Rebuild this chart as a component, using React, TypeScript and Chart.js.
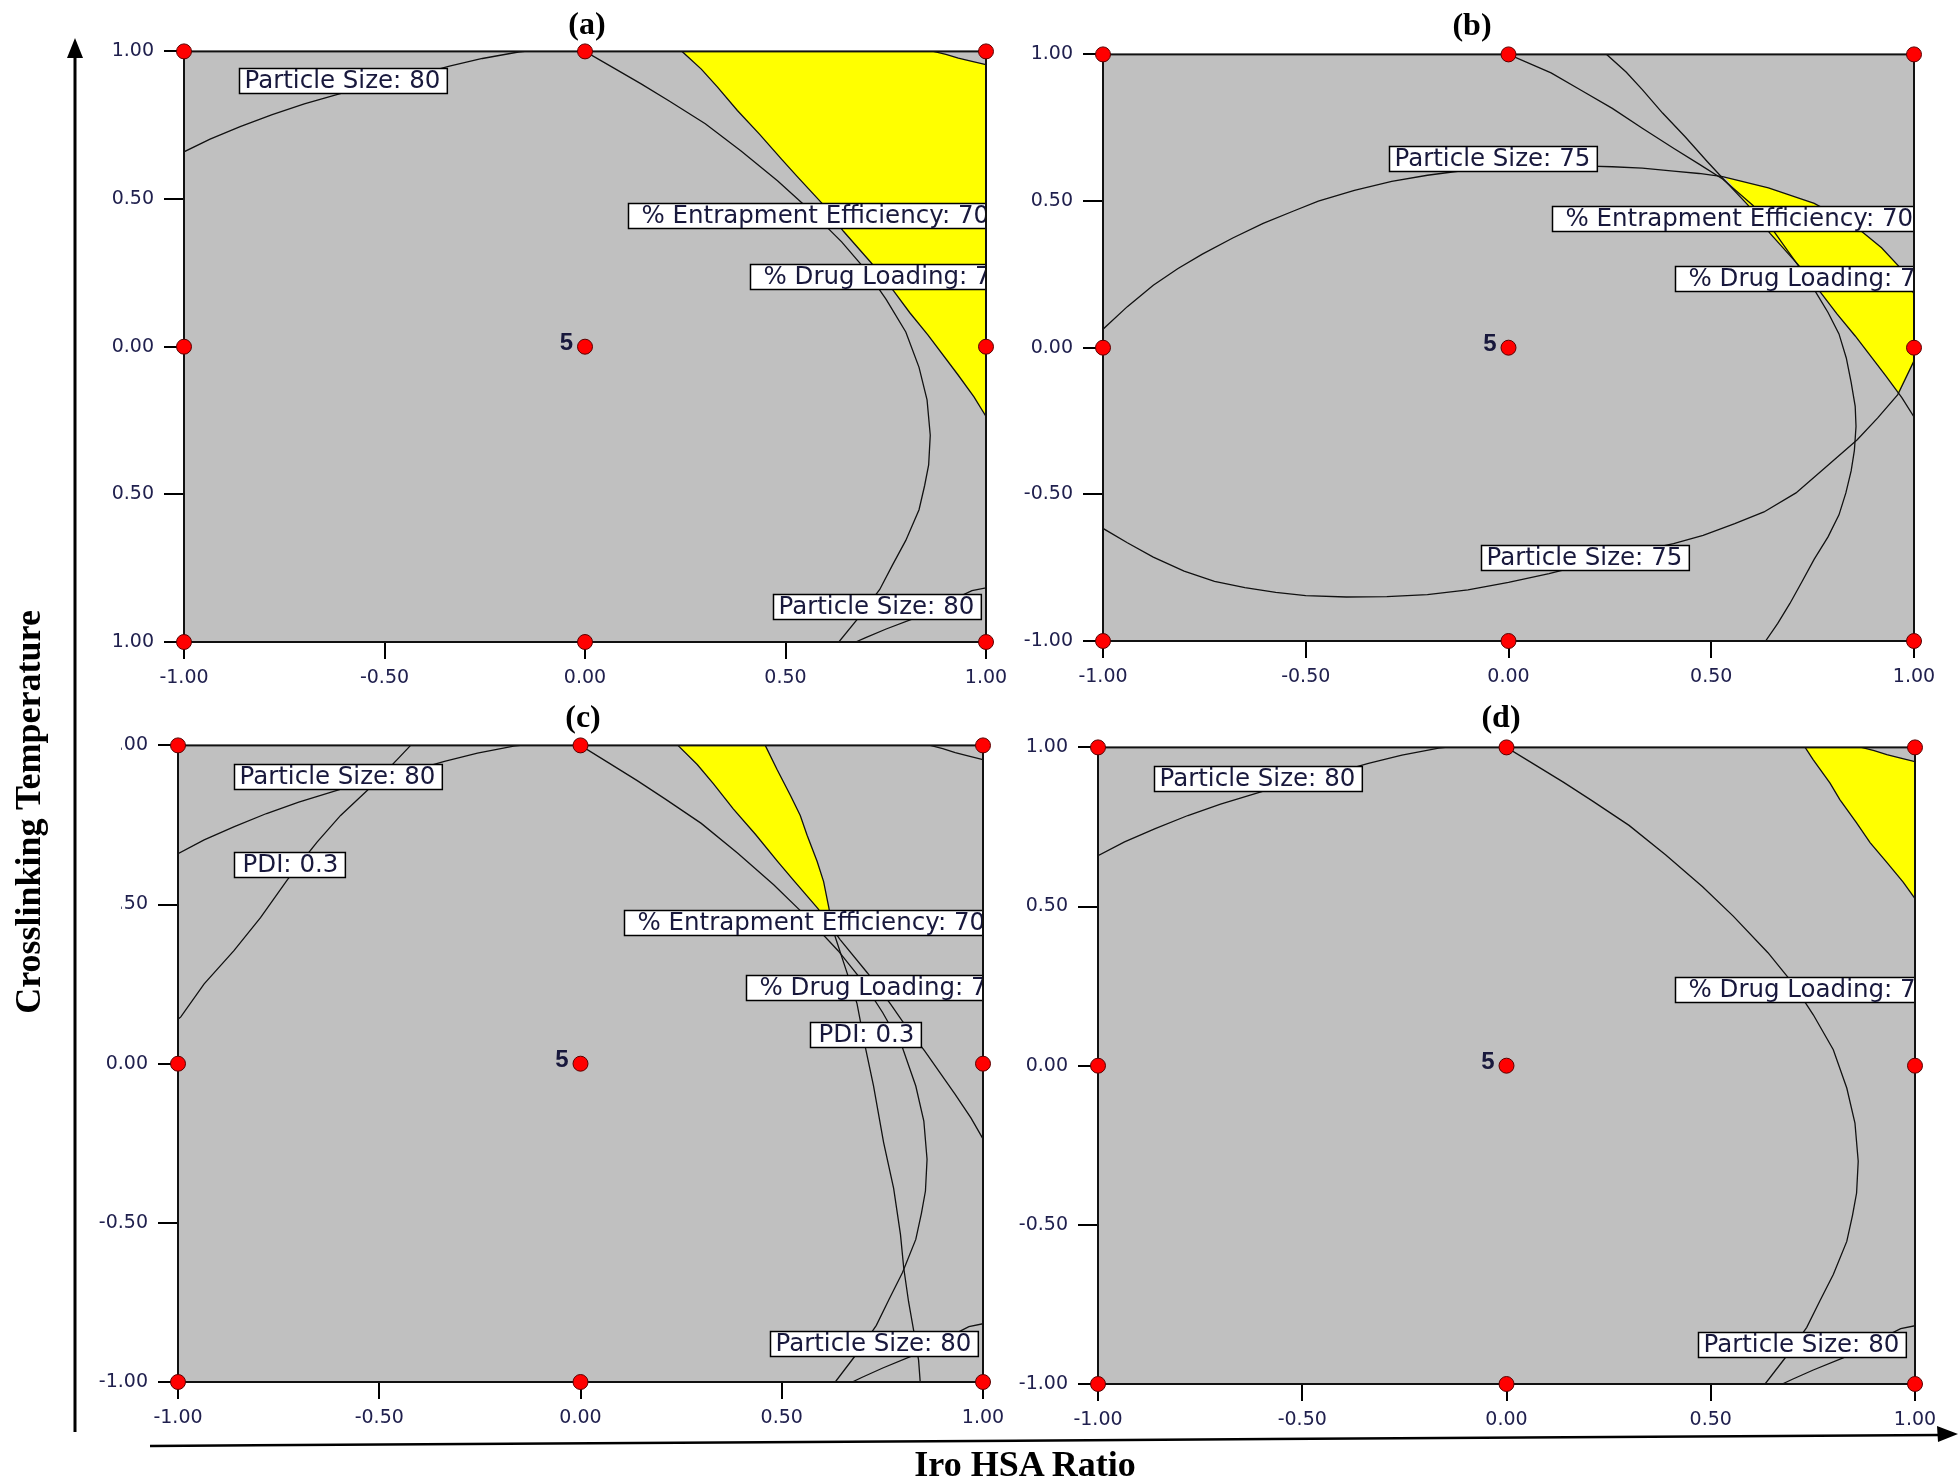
import React, { useEffect, useRef } from 'react';
import { Chart, registerables } from 'chart.js';

Chart.register(...registerables);

type Pt = [number, number];
type Lbl = { text: string; x: number; y: number; pad: number };

// ---------- data (coded factor levels, -1 .. 1) ----------
const xTickValues = [-1, -0.5, 0, 0.5, 1];
const yTickValues = [-1, -0.5, 0, 0.5, 1];
const designPoints: Pt[] = [[-1, -1], [-1, 0], [-1, 1], [0, -1], [0, 0], [0, 1], [1, -1], [1, 0], [1, 1]];
const centerRunsLabel = '5';

const psTopLeft: Pt[] = [[-1, 0.66], [-0.935, 0.703], [-0.86, 0.745], [-0.78, 0.786], [-0.7, 0.822], [-0.595, 0.863], [-0.5, 0.893], [-0.42, 0.92], [-0.338, 0.95], [-0.256, 0.976], [-0.166, 0.998], [-0.15, 1]];
const psBottomRight: Pt[] = [[1, -0.817], [0.965, -0.826], [0.92, -0.855], [0.87, -0.89], [0.824, -0.918], [0.751, -0.956], [0.7, -0.985], [0.675, -1]];
const topRightCorner: Pt[] = [[0.869, 1], [0.9, 0.99], [0.931, 0.977], [0.965, 0.966], [1, 0.955]];
const eeContour: Pt[] = [[0.242, 1], [0.29, 0.94], [0.33, 0.88], [0.38, 0.8], [0.435, 0.72], [0.49, 0.635], [0.53, 0.575], [0.59, 0.487], [0.645, 0.39], [0.713, 0.285], [0.77, 0.188], [0.81, 0.115], [0.855, 0.04], [0.93, -0.095], [0.97, -0.17], [1, -0.236]];
const dlContour: Pt[] = [[0, 1], [0.07, 0.945], [0.14, 0.89], [0.21, 0.832], [0.3, 0.755], [0.39, 0.662], [0.48, 0.562], [0.555, 0.47], [0.64, 0.355], [0.7, 0.26], [0.751, 0.16], [0.8, 0.05], [0.833, -0.07], [0.853, -0.18], [0.861, -0.3], [0.857, -0.4], [0.847, -0.47], [0.833, -0.552], [0.8, -0.656], [0.767, -0.739], [0.735, -0.822], [0.69, -0.905], [0.633, -1]];
const dlContourB: Pt[] = [[0, 1], [0.105, 0.937], [0.18, 0.877], [0.256, 0.816], [0.33, 0.748], [0.407, 0.68], [0.47, 0.626], [0.528, 0.575], [0.603, 0.485], [0.645, 0.415], [0.679, 0.349], [0.72, 0.27], [0.754, 0.198], [0.788, 0.12], [0.815, 0.047], [0.833, -0.035], [0.845, -0.118], [0.855, -0.2], [0.857, -0.269], [0.853, -0.35], [0.845, -0.42], [0.832, -0.495], [0.815, -0.57], [0.788, -0.645], [0.754, -0.721], [0.724, -0.797], [0.694, -0.872], [0.664, -0.94], [0.634, -1]];
const ellipseUpper: Pt[] = [[-1, 0.063], [-0.94, 0.14], [-0.876, 0.213], [-0.815, 0.27], [-0.755, 0.319], [-0.68, 0.374], [-0.605, 0.424], [-0.53, 0.466], [-0.469, 0.5], [-0.38, 0.536], [-0.288, 0.567], [-0.2, 0.588], [-0.106, 0.605], [0, 0.615], [0.105, 0.619], [0.2, 0.619], [0.256, 0.617], [0.33, 0.612], [0.407, 0.602], [0.47, 0.594], [0.528, 0.583], [0.641, 0.545], [0.754, 0.492], [0.85, 0.42], [0.92, 0.341], [0.965, 0.274], [1, 0.183]];
const ellipseLower: Pt[] = [[1, -0.045], [0.96, -0.16], [0.91, -0.24], [0.86, -0.314], [0.78, -0.41], [0.709, -0.495], [0.63, -0.56], [0.558, -0.6], [0.48, -0.64], [0.407, -0.668], [0.3, -0.7], [0.2, -0.735], [0.1, -0.77], [0, -0.8], [-0.1, -0.826], [-0.2, -0.842], [-0.3, -0.849], [-0.4, -0.85], [-0.5, -0.845], [-0.574, -0.834], [-0.65, -0.818], [-0.725, -0.797], [-0.8, -0.762], [-0.876, -0.714], [-0.94, -0.665], [-1, -0.616]];
const pdiLeft: Pt[] = [[-0.422, 1], [-0.455, 0.956], [-0.49, 0.91], [-0.53, 0.858], [-0.596, 0.78], [-0.654, 0.697], [-0.69, 0.64], [-0.728, 0.578], [-0.795, 0.459], [-0.861, 0.355], [-0.935, 0.251], [-0.993, 0.147], [-1, 0.14]];
const pdiRight: Pt[] = [[0.459, 1], [0.488, 0.925], [0.522, 0.842], [0.546, 0.78], [0.563, 0.718], [0.588, 0.635], [0.604, 0.572], [0.617, 0.49], [0.625, 0.43], [0.635, 0.39], [0.661, 0.29], [0.687, 0.189], [0.708, 0.05], [0.728, -0.07], [0.753, -0.247], [0.778, -0.392], [0.795, -0.537], [0.803, -0.641], [0.815, -0.747], [0.828, -0.84], [0.84, -0.932], [0.844, -1]];
const edgeD: Pt[] = [[0.731, 1], [0.751, 0.961], [0.792, 0.888], [0.816, 0.836], [0.857, 0.763], [0.89, 0.701], [0.931, 0.639], [0.971, 0.577], [1, 0.525]];
const yellowB: Pt[] = [[0.535, 0.58], [0.641, 0.545], [0.754, 0.492], [0.85, 0.42], [0.92, 0.341], [0.965, 0.274], [1, 0.183], [1, -0.045], [0.962, -0.158], [0.93, -0.095], [0.855, 0.04], [0.81, 0.115], [0.77, 0.188], [0.713, 0.285], [0.645, 0.39], [0.59, 0.487]];

// feasible (yellow) regions built from the contours
const yellowA: Pt[] = [...topRightCorner, ...eeContour.slice().reverse()];
const yellowC: Pt[] = [...pdiRight.slice(0, 8), [0.623, 0.43], ...eeContour.slice(0, 8).reverse()];
const yellowD: Pt[] = [...topRightCorner, ...edgeD.slice().reverse()];

const labelsA: Lbl[] = [
  { text: 'Particle Size: 80', x: -0.862, y: 0.903, pad: 5 },
  { text: '% Entrapment Efficiency: 70', x: 0.106, y: 0.443, pad: 13 },
  { text: '% Drug Loading: 75', x: 0.411, y: 0.237, pad: 13 },
  { text: 'Particle Size: 80', x: 0.469, y: -0.879, pad: 5 },
];
const labelsB: Lbl[] = [
  { text: 'Particle Size: 75', x: -0.294, y: 0.645, pad: 5 },
  { text: '% Entrapment Efficiency: 70', x: 0.108, y: 0.44, pad: 13 },
  { text: '% Drug Loading: 75', x: 0.411, y: 0.236, pad: 13 },
  { text: 'Particle Size: 75', x: -0.067, y: -0.716, pad: 5 },
];
const labelsC: Lbl[] = [
  { text: 'Particle Size: 80', x: -0.861, y: 0.903, pad: 5 },
  { text: 'PDI: 0.3', x: -0.861, y: 0.627, pad: 8 },
  { text: '% Entrapment Efficiency: 70', x: 0.108, y: 0.444, pad: 13 },
  { text: '% Drug Loading: 75', x: 0.412, y: 0.238, pad: 13 },
  { text: 'PDI: 0.3', x: 0.569, y: 0.091, pad: 8 },
  { text: 'Particle Size: 80', x: 0.47, y: -0.879, pad: 5 },
];
const labelsD: Lbl[] = [
  { text: 'Particle Size: 80', x: -0.862, y: 0.903, pad: 5 },
  { text: '% Drug Loading: 75', x: 0.412, y: 0.238, pad: 13 },
  { text: 'Particle Size: 80', x: 0.47, y: -0.877, pad: 5 },
];

// ---------- styles ----------
const GRAY = '#c0c0c0';
const YELLOW = '#ffff00';
const RED = '#ff0000';
const TICK_COLOR = '#20204e';
const LABEL_COLOR = '#18183c';
const TICK_FONT = { family: '"DejaVu Sans", sans-serif', size: 19 };
const LABEL_FONT = '24.5px "DejaVu Sans", sans-serif';

interface PanelSpec {
  title: string;
  plot: { left: number; top: number; right: number; bottom: number };
  yAxisWidth: number;
  titlePos: [number, number];
  clipPath?: string;
  lines: Pt[][];
  yellow: Pt[];
  labels: Lbl[];
}

const panels: PanelSpec[] = [
  { title: '(a)', plot: { left: 184, top: 45, right: 986, bottom: 642 }, yAxisWidth: 71, titlePos: [587, 23],
    lines: [psTopLeft, psBottomRight, topRightCorner, eeContour, dlContour], yellow: yellowA, labels: labelsA },
  { title: '(b)', plot: { left: 1103, top: 48, right: 1914, bottom: 641 }, yAxisWidth: 90, titlePos: [1472, 24],
    lines: [ellipseUpper, ellipseLower, eeContour, dlContourB], yellow: yellowB, labels: labelsB },
  { title: '(c)', plot: { left: 178, top: 739, right: 983, bottom: 1382 }, yAxisWidth: 90, titlePos: [583, 716],
    clipPath: 'polygon(33px 0, 100% 0, 100% 100%, 0 100%, 0 230px, 33px 230px)',
    lines: [psTopLeft, pdiLeft, eeContour, pdiRight, dlContour, topRightCorner, psBottomRight], yellow: yellowC, labels: labelsC },
  { title: '(d)', plot: { left: 1098, top: 741, right: 1915, bottom: 1384 }, yAxisWidth: 90, titlePos: [1501, 716],
    lines: [psTopLeft, dlContour, edgeD, topRightCorner, psBottomRight], yellow: yellowD, labels: labelsD },
];

const PAD_TOP = 15;
const PAD_RIGHT = 30;
const X_AXIS_H = 55;

const toXY = (pts: Pt[]) => pts.map(([x, y]) => ({ x, y }));

function makeOverlay(labels: Lbl[], pointsIndex: number) {
  return {
    id: 'overlay',
    beforeDatasetsDraw(chart: any) {
      const { ctx, chartArea: a } = chart;
      ctx.save();
      ctx.fillStyle = GRAY;
      ctx.fillRect(a.left, a.top, a.right - a.left, a.bottom - a.top);
      ctx.restore();
    },
    beforeDatasetDraw(chart: any, args: any) {
      if (args.index !== pointsIndex) return;
      const { ctx, chartArea: a, scales } = chart;
      const xs = scales.x;
      const ys = scales.y;
      ctx.save();
      ctx.beginPath();
      ctx.rect(a.left, a.top, a.right - a.left, a.bottom - a.top);
      ctx.clip();
      ctx.font = LABEL_FONT;
      for (const lb of labels) {
        const tw = ctx.measureText(lb.text).width;
        const x0 = Math.round(xs.getPixelForValue(lb.x)) + 0.5;
        const yc = ys.getPixelForValue(lb.y);
        const h = 25;
        const y0 = Math.round(yc - h / 2) + 0.5;
        const w = lb.pad + tw + 7;
        ctx.fillStyle = '#ffffff';
        ctx.fillRect(x0, y0, w, h);
        ctx.strokeStyle = '#000000';
        ctx.lineWidth = 1.5;
        ctx.strokeRect(x0, y0, w, h);
        ctx.fillStyle = LABEL_COLOR;
        ctx.textAlign = 'left';
        ctx.textBaseline = 'middle';
        ctx.fillText(lb.text, x0 + lb.pad, y0 + h / 2 + 1);
      }
      ctx.restore();
      // frame
      ctx.save();
      ctx.strokeStyle = '#111111';
      ctx.lineWidth = 2;
      ctx.strokeRect(a.left, a.top, a.right - a.left, a.bottom - a.top);
      // center replicate label
      ctx.font = 'bold 24px "Liberation Sans", Arial, sans-serif';
      ctx.fillStyle = LABEL_COLOR;
      ctx.textAlign = 'right';
      ctx.textBaseline = 'middle';
      ctx.fillText(centerRunsLabel, xs.getPixelForValue(0) - 12, ys.getPixelForValue(0) - 3);
      ctx.restore();
    },
  };
}

function Panel({ spec }: { spec: PanelSpec }) {
  const ref = useRef<HTMLCanvasElement | null>(null);
  const left = spec.plot.left - spec.yAxisWidth;
  const top = spec.plot.top - PAD_TOP;
  const width = spec.plot.right + PAD_RIGHT - left;
  const height = spec.plot.bottom + X_AXIS_H - top;

  useEffect(() => {
    if (!ref.current) return;
    const datasets: any[] = [
      { label: 'feasible', data: toXY(spec.yellow), showLine: true, fill: 'shape', backgroundColor: YELLOW,
        borderColor: 'rgba(0,0,0,0)', borderWidth: 0, pointRadius: 0, order: 3 },
      ...spec.lines.map((l, i) => ({ label: 'contour' + i, data: toXY(l), showLine: true, fill: false,
        borderColor: '#111111', borderWidth: 1.3, pointRadius: 0, order: 2 })),
    ];
    const pointsIndex = datasets.length;
    datasets.push({ label: 'design', data: toXY(designPoints), showLine: false, pointRadius: 7.5,
      pointBackgroundColor: RED, pointBorderColor: '#5a0000', pointBorderWidth: 1, order: 0, clip: false });

    const chart = new Chart(ref.current, {
      type: 'scatter',
      data: { datasets },
      options: {
        responsive: false,
        animation: false,
        events: [],
        layout: { padding: { left: 0, top: PAD_TOP, right: PAD_RIGHT, bottom: 0 } },
        plugins: { legend: { display: false }, tooltip: { enabled: false } },
        scales: {
          x: {
            type: 'linear', min: -1, max: 1,
            afterBuildTicks: (s: any) => { s.ticks = xTickValues.map((v) => ({ value: v })); },
            afterFit: (s: any) => { s.height = X_AXIS_H; },
            grid: { drawOnChartArea: false, drawTicks: true, tickLength: 17, color: '#000', lineWidth: 2 },
            border: { display: true, color: '#000', width: 2 },
            ticks: { padding: 8, color: TICK_COLOR, font: TICK_FONT, maxRotation: 0, autoSkip: false,
              callback: (v: any) => Number(v).toFixed(2) },
          },
          y: {
            type: 'linear', min: -1, max: 1,
            afterBuildTicks: (s: any) => { s.ticks = yTickValues.map((v) => ({ value: v })); },
            afterFit: (s: any) => { s.width = spec.yAxisWidth; },
            grid: { drawOnChartArea: false, drawTicks: true, tickLength: 20, color: '#000', lineWidth: 2 },
            border: { display: true, color: '#000', width: 2 },
            ticks: { padding: 10, color: TICK_COLOR, font: TICK_FONT, autoSkip: false,
              callback: (v: any) => Number(v).toFixed(2) },
          },
        },
      } as any,
      plugins: [makeOverlay(spec.labels, pointsIndex)],
    });
    return () => chart.destroy();
  }, [spec]);

  return (
    <>
      <canvas ref={ref} width={width} height={height}
        style={{ position: 'absolute', left, top, width, height, display: 'block', clipPath: spec.clipPath }} />
      <div style={{ position: 'absolute', left: spec.titlePos[0], top: spec.titlePos[1], transform: 'translate(-50%, -50%)',
        font: 'bold 32px "Liberation Serif", "Times New Roman", serif', color: '#000', whiteSpace: 'nowrap' }}>{spec.title}</div>
    </>
  );
}

export default function App() {
  return (
    <div style={{ position: 'absolute', left: 0, top: 0, width: 1959, height: 1484, background: '#fff', overflow: 'hidden' }}>
      {panels.map((p) => <Panel key={p.title} spec={p} />)}
      <svg width={1959} height={1484} style={{ position: 'absolute', left: 0, top: 0, pointerEvents: 'none' }}>
        <line x1={75} y1={1432} x2={75} y2={52} stroke="#000" strokeWidth={3} />
        <polygon points="75,38 67,58 83,58" fill="#000" />
        <line x1={150} y1={1446} x2={1940} y2={1435} stroke="#000" strokeWidth={2.5} />
        <polygon points="1958,1434 1937,1426 1938,1442" fill="#000" />
      </svg>
      <div style={{ position: 'absolute', left: 28, top: 812, transform: 'translate(-50%, -50%) rotate(-90deg)',
        font: 'bold 36px "Liberation Serif", "Times New Roman", serif', color: '#000', whiteSpace: 'nowrap' }}>Crosslinking Temperature</div>
      <div style={{ position: 'absolute', left: 1025, top: 1464, transform: 'translate(-50%, -50%)',
        font: 'bold 36px "Liberation Serif", "Times New Roman", serif', color: '#000', whiteSpace: 'nowrap' }}>Iro HSA Ratio</div>
    </div>
  );
}
